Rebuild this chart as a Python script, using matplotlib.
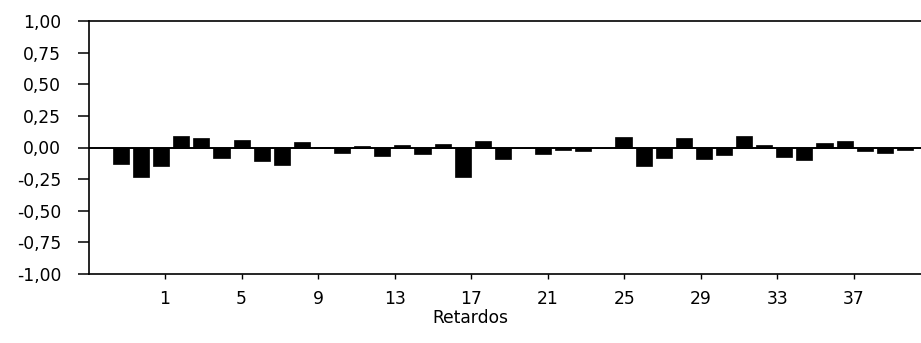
import matplotlib
matplotlib.use("Agg")
import matplotlib.pyplot as plt
import numpy as np

# Data: autocorrelations by lag (bars)
lags = list(range(1, 41))
values = [-0.13, -0.23, -0.15, 0.09, 0.075, -0.085, 0.06, -0.105, -0.14, 0.04,
          0.005, -0.04, 0.01, -0.065, 0.02, -0.055, 0.025, -0.235, 0.05, -0.09,
          -0.005, -0.055, -0.02, -0.025, -0.005, 0.08, -0.15, -0.085, 0.075, -0.09,
          -0.06, 0.09, 0.02, -0.075, -0.095, 0.035, 0.055, -0.025, -0.04, -0.02]
tick_labels = [1, 5, 9, 13, 17, 21, 25, 29, 33, 37]
y_ticks = [-1.0, -0.75, -0.5, -0.25, 0.0, 0.25, 0.5, 0.75, 1.0]
x_title = "Retardos"

plt.rcParams['font.family'] = ['DejaVu Sans']
FS = 12.3

fig = plt.figure(figsize=(9.21, 3.43), dpi=100)
W, H = 921, 343
left, right, top, bottom = 89, 921, 21, 274
ax = fig.add_axes([left / W, 1 - bottom / H, (right - left) / W, (bottom - top) / H])

ax.bar(lags, values, width=0.8, color='black', edgecolor='black', linewidth=0.5, zorder=3)
ax.axhline(0, color='black', linewidth=1.4, zorder=2)

ax.set_xlim(-0.59, 40.80)
ax.set_ylim(-1.0, 1.0)
ax.set_yticks(y_ticks)
ax.set_yticklabels([f"{v:.2f}".replace('.', ',') for v in y_ticks], fontsize=FS)
ax.tick_params(axis='y', direction='out', length=8, width=1.1, pad=12, colors='black')

for s in ['left', 'top', 'bottom']:
    ax.spines[s].set_linewidth(1.2)
    ax.spines[s].set_color('black')
ax.spines['right'].set_visible(False)

# Label axis for lags (separate scale as in the reference)
ax2 = ax.twiny()
ax2.set_xlim(-2.97, 40.50)
ax2.xaxis.set_ticks_position('bottom')
ax2.xaxis.set_label_position('bottom')
ax2.set_xticks(tick_labels)
ax2.set_xticklabels([str(t) for t in tick_labels], fontsize=FS)
ax2.tick_params(axis='x', direction='out', length=3.5, width=1.0, pad=8)
for s in ax2.spines.values():
    s.set_visible(False)

# hide the primary axis x ticks (after twiny, which re-enables them)
ax.tick_params(axis='x', bottom=False, top=False, labelbottom=False, labeltop=False)

fig.text(470 / W, 1 - 318 / H, x_title, ha='center', va='center', fontsize=FS)

fig.savefig("out.png", dpi=100)
